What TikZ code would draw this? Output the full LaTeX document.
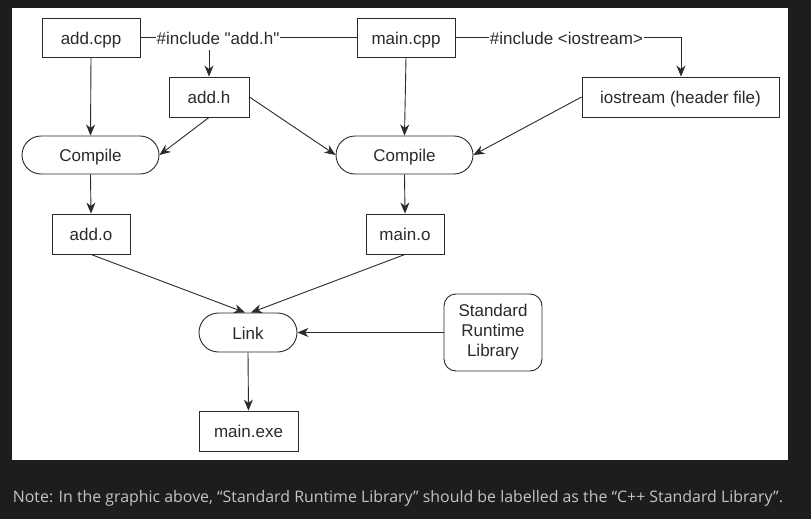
\documentclass[tikz,border=0pt]{standalone}
\usepackage{fontspec}
\setmainfont{Liberation Sans}[Ligatures=TeXOff]
\newfontfamily\capfont{Open Sans}
\usetikzlibrary{arrows.meta,shapes.misc}
\definecolor{pagebg}{HTML}{1C1D1F}
\definecolor{capgray}{HTML}{C4C4C4}
\definecolor{ink}{HTML}{2A2A2A}
\tikzset{
  txt/.style={text=ink, font=\fontsize{17}{20}\selectfont},
  box/.style={txt, draw=ink, line width=0.9pt, rectangle, inner sep=0pt, text height=13.5pt, text depth=0pt},
  pill/.style={txt, draw=ink, line width=0.9pt, rounded rectangle, inner sep=0pt, text height=13.5pt, text depth=0pt},
  rbox/.style={txt, draw=ink, line width=0.9pt, rectangle, rounded corners=12pt, align=center, inner sep=0pt},
  lbl/.style={txt, fill=white, inner sep=1pt, text height=13.5pt, text depth=0pt},
  conn/.style={draw=ink, line width=0.9pt},
  arr/.style={conn, -{Stealth[length=11pt,width=9pt,inset=3.5pt]}},
}
\begin{document}
\begin{tikzpicture}[x=1pt,y=-1pt]
\useasboundingbox (0,0) rectangle (811,519);
\fill[pagebg] (0,0) rectangle (811,519);
\fill[white] (12,8) rectangle (788,460);

\node[box, minimum width=98pt, minimum height=39pt] (addcpp) at (91,37.5) {add.cpp};
\node[box, minimum width=98pt, minimum height=39pt] (maincpp) at (406,37.5) {main.cpp};
\node[box, minimum width=80pt, minimum height=40pt] (addh) at (209,97) {add.h};
\node[box, minimum width=197pt, minimum height=40pt] (iostream) at (680.5,97) {iostream (header file)};
\node[pill, minimum width=137pt, minimum height=38pt] (comp1) at (90.5,155) {Compile};
\node[pill, minimum width=137pt, minimum height=38pt] (comp2) at (404.5,155) {Compile};
\node[box, minimum width=78pt, minimum height=40pt] (addo) at (91,234) {add.o};
\node[box, minimum width=78pt, minimum height=40pt] (maino) at (405,234) {main.o};
\node[pill, minimum width=98pt, minimum height=39pt] (link) at (248,332.5) {Link};
\node[rbox, minimum width=98pt, minimum height=77pt] (stdlib) at (493,332.5) {Standard\\Runtime\\Library};
\node[box, minimum width=99pt, minimum height=40pt] (mainexe) at (248.5,431) {main.exe};

% include lines
\draw[conn] (addcpp.east) -- (maincpp.west);
\node[lbl] (inc1) at (218,37.5) {\#include "add.h"};
\coordinate (corner) at (681,37.5);
\draw[conn] (maincpp.east) -- (corner);
\node[lbl] (inc2) at (566.5,37.5) {\#include <iostream>};
\draw[arr] (corner) -- (iostream.north -| corner);
\draw[arr, shorten <=5pt] (addh.north |- inc1.south) -- (addh.north);

% compile inputs
\draw[arr] (addcpp.south) -- (comp1.north);
\draw[arr] (maincpp.south) -- (comp2.north);
\draw[arr] (addh.south) -- (comp1.east);
\draw[arr] (addh.east) -- (comp2.west);
\draw[arr] (iostream.west) -- (comp2.east);

% compile outputs
\draw[arr] (comp1.south) -- (addo.north);
\draw[arr] (comp2.south) -- (maino.north);

% link
\draw[arr] (addo.south) -- ([xshift=-3pt]link.north);
\draw[arr] (maino.south) -- ([xshift=3pt]link.north);
\draw[arr] (stdlib.west) -- (link.east);
\draw[arr] (link.south) -- (mainexe.north);

% caption
\node[anchor=base west, inner sep=0pt, text=capgray] (caption) at (12.7,502)
  {\resizebox{770pt}{!}{\capfont\fontsize{15.5}{18}\selectfont Note: In the graphic above, “Standard Runtime Library” should be labelled as the “C++ Standard Library”.}};
\end{tikzpicture}
\end{document}
